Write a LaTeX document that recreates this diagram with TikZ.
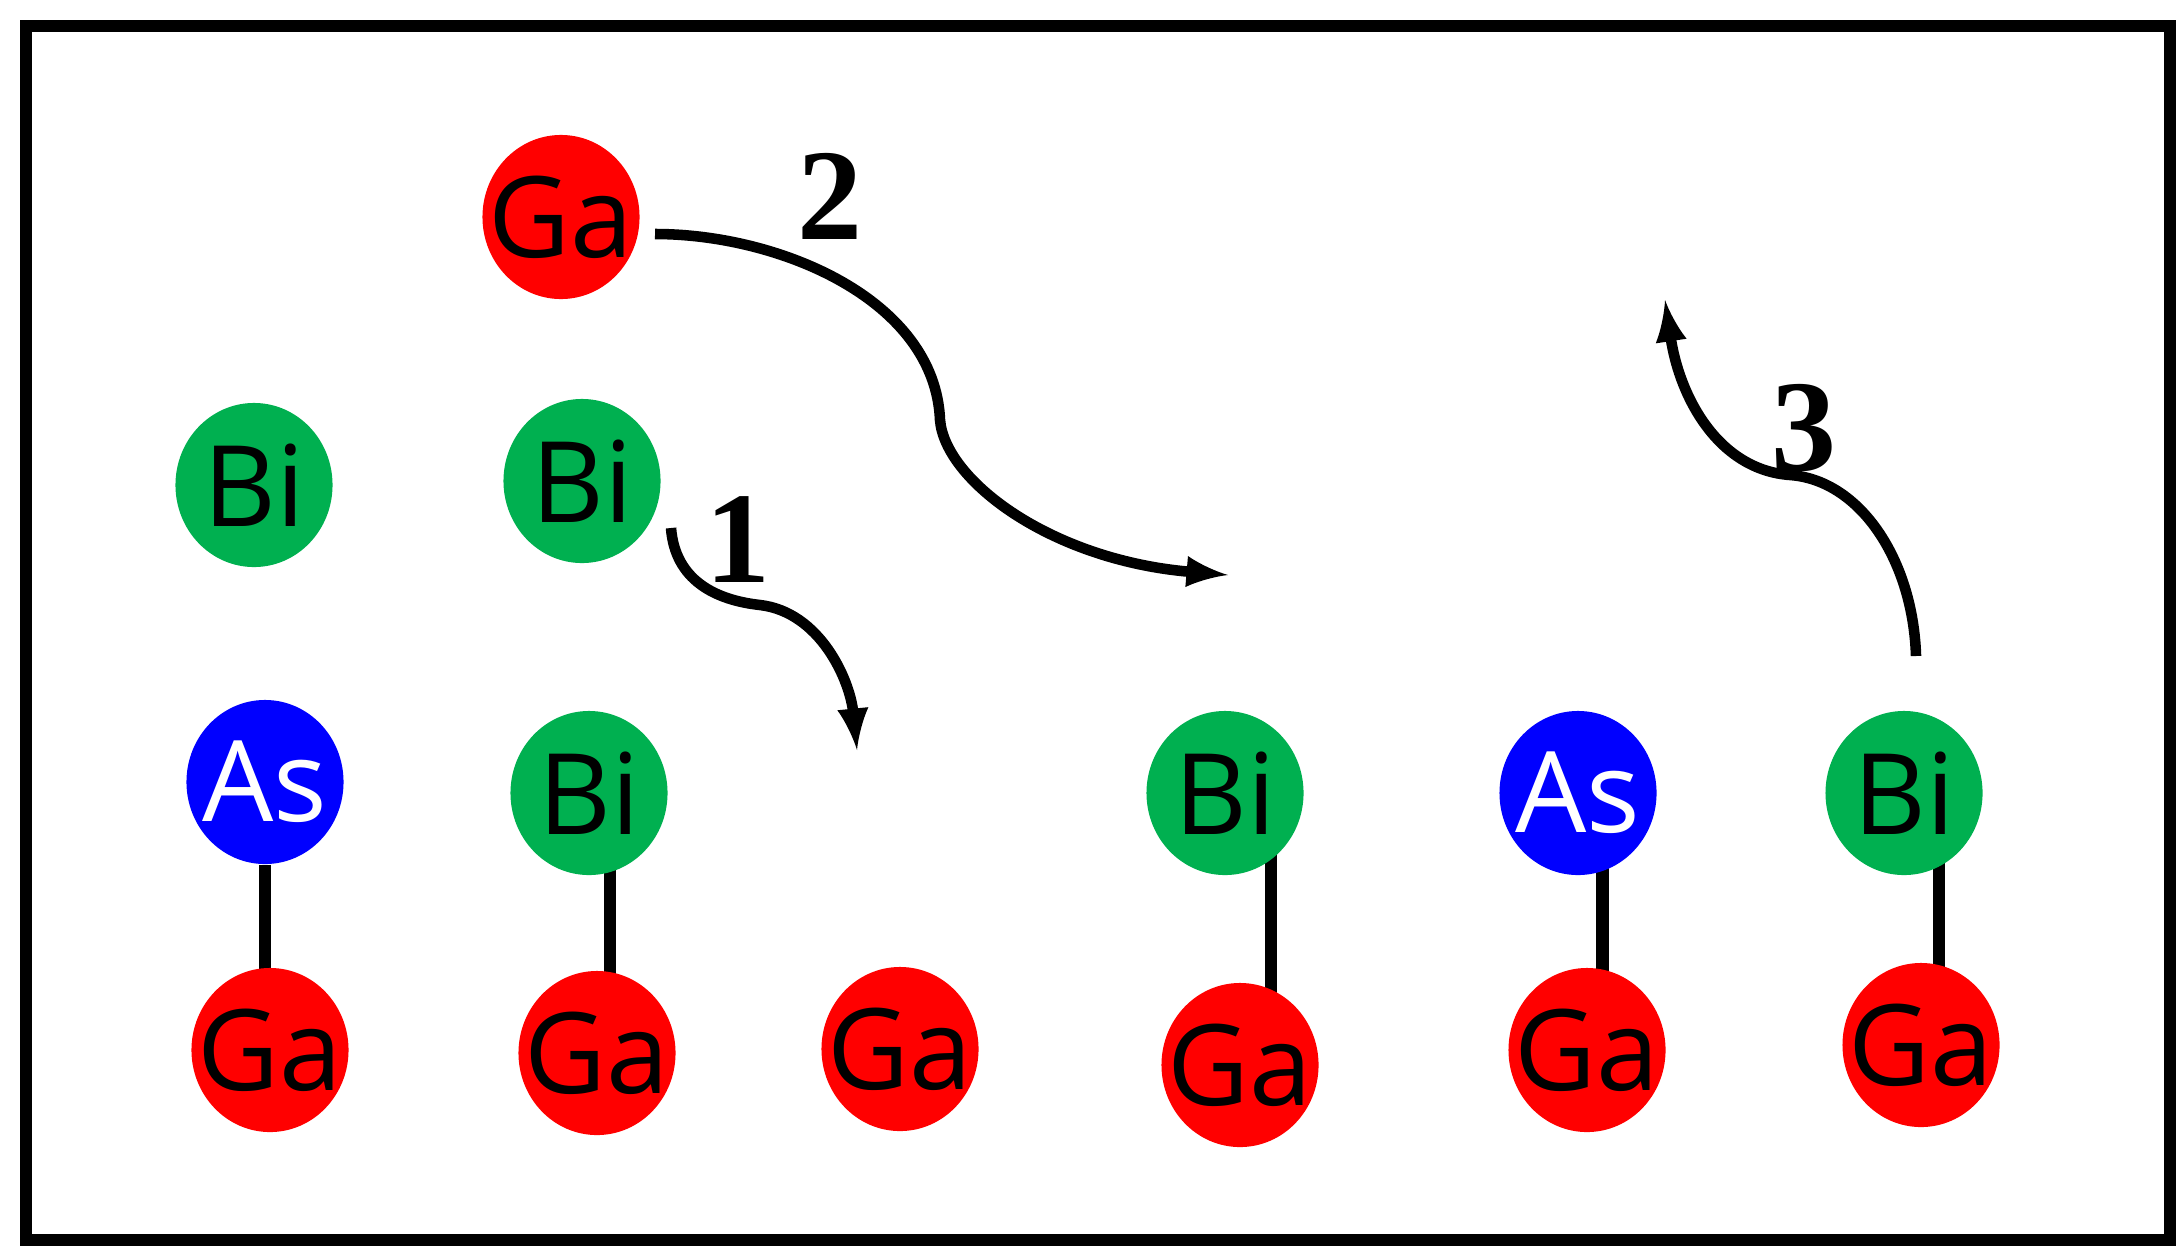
\documentclass[tikz,border=0pt]{standalone}
\usepackage{fontspec}
\setmainfont{Open Sans}
\newfontfamily\numfont{Liberation Serif}
\usepackage{xcolor}
\usetikzlibrary{arrows,backgrounds,shapes.geometric}

\definecolor{gared}{RGB}{255,0,0}
\definecolor{bigreen}{RGB}{0,176,80}
\definecolor{asblue}{RGB}{0,0,255}

\tikzset{
	atom/.style = {ellipse, minimum width=1.57cm, minimum height=1.64cm, inner sep=-8pt,
		font=\fontsize{32}{32}\selectfont},
	gaatom/.style = {atom, fill=gared},
	biatom/.style = {atom, fill=bigreen},
	asatom/.style = {atom, fill=asblue, text=white},
	bond/.style = {line width=3.5pt},
	hop/.style = {line width=3pt, -latex},
	stepnum/.style = {font=\numfont\bfseries\fontsize{37}{37}\selectfont}
}

\begin{document}
\begin{tikzpicture}[x=0.01cm, y=-0.01cm]
		\useasboundingbox (0,0) rectangle (2180,1257);
		\draw[line width=3.5pt] (26,26) rectangle (2170,1240);
		
		% atoms leaving the surface
		\node[gaatom] (ga0) at (561,217) {Ga};
		\node[biatom] (bi1) at (254,485) {Bi};
		\node[biatom] (bi2) at (582,481) {Bi};
		
		% surface pairs
		\node[asatom] (as1) at (265,782) {As};
		\node[biatom] (bi3) at (589,793) {Bi};
		\node[biatom] (bi4) at (1225,793) {Bi};
		\node[asatom] (as2) at (1578,793) {As};
		\node[biatom] (bi5) at (1904,793) {Bi};
		
		\node[gaatom] (ga1) at (270,1050) {Ga};
		\node[gaatom] (ga2) at (597,1053) {Ga};
		\node[gaatom] (ga3) at (900,1049) {Ga};
		\node[gaatom] (ga4) at (1240,1065) {Ga};
		\node[gaatom] (ga5) at (1587,1050) {Ga};
		\node[gaatom] (ga6) at (1921,1045) {Ga};
		
		\begin{scope}[on background layer]
		\draw[bond] (as1) -- (as1 |- ga1);
		\draw[bond] ([xshift=6]bi3.center) -- ([xshift=6]bi3.center |- ga2);
		\draw[bond] ([xshift=13]bi4.center) -- ([xshift=13]bi4.center |- ga4);
		\draw[bond] ([xshift=7]as2.center) -- ([xshift=7]as2.center |- ga5);
		\draw[bond] ([xshift=10]bi5.center) -- ([xshift=10]bi5.center |- ga6);
		\end{scope}
		
		% hops
		\coordinate (s1) at (671,528);
		\coordinate (e1) at (857,750);
		\coordinate (s2) at (655,234);
		\coordinate (e2) at (1228,575);
		\coordinate (s3) at (1916,656);
		\coordinate (e3) at (1665,300);
		
		\draw[hop] (s1) .. controls (675,580) and (715,600) .. (760,605) .. controls (820,612) and (850,680) .. (e1);
		\draw[hop] (s2) .. controls (780,234) and (935,300) .. (940,420) .. controls (945,480) and (1050,560) .. (e2);
		\draw[hop] (s3) .. controls (1913,560) and (1860,480) .. (1790,475) .. controls (1720,470) and (1680,400) .. (e3);
		
		\node[stepnum] (n1) at (738,540) {1};
		\node[stepnum] (n2) at (830,196) {2};
		\node[stepnum] (n3) at (1804,428) {3};
\end{tikzpicture}
\end{document}
